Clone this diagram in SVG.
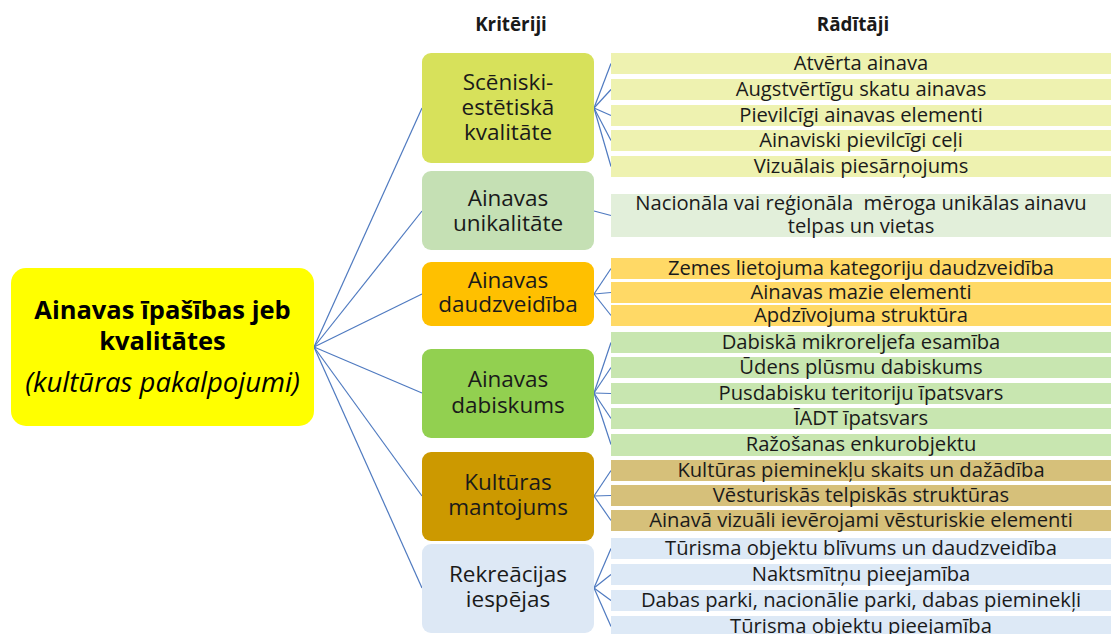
<svg xmlns="http://www.w3.org/2000/svg" width="1111" height="634" viewBox="0 0 1111 634">
<style>
text{font-family:"Open Sans","Liberation Sans",sans-serif;fill:#1a1a1a;text-anchor:middle}
.hd{font-size:18.8px;font-weight:bold}
.cr{font-size:22.5px}
.ind{font-size:20.2px}
.root{font-size:25.5px;font-weight:bold;fill:#000}
.rooti{font-size:27.5px;font-style:italic;fill:#000}
.con line{stroke:#4F7AC0;stroke-width:1.2;fill:none}
</style>
<rect width="1111" height="634" fill="#fff"/>
<g class="con" id="connectors">
<line x1="314" y1="347" x2="422" y2="108"/>
<line x1="314" y1="347" x2="422" y2="211"/>
<line x1="314" y1="347" x2="422" y2="294"/>
<line x1="314" y1="347" x2="422" y2="393"/>
<line x1="314" y1="347" x2="422" y2="496"/>
<line x1="314" y1="347" x2="422" y2="588"/>
<line x1="594" y1="108" x2="611" y2="63.5"/>
<line x1="594" y1="108" x2="611" y2="89.5"/>
<line x1="594" y1="108" x2="611" y2="115.5"/>
<line x1="594" y1="108" x2="611" y2="140.5"/>
<line x1="594" y1="108" x2="611" y2="166.5"/>
<line x1="594" y1="211" x2="611" y2="215.5"/>
<line x1="594" y1="294" x2="611" y2="268.5"/>
<line x1="594" y1="294" x2="611" y2="292.5"/>
<line x1="594" y1="294" x2="611" y2="315.5"/>
<line x1="594" y1="393" x2="611" y2="342.5"/>
<line x1="594" y1="393" x2="611" y2="367.5"/>
<line x1="594" y1="393" x2="611" y2="393.5"/>
<line x1="594" y1="393" x2="611" y2="418.5"/>
<line x1="594" y1="393" x2="611" y2="444.5"/>
<line x1="594" y1="496" x2="611" y2="470.5"/>
<line x1="594" y1="496" x2="611" y2="495.5"/>
<line x1="594" y1="496" x2="611" y2="520.5"/>
<line x1="594" y1="588" x2="611" y2="548.5"/>
<line x1="594" y1="588" x2="611" y2="574.5"/>
<line x1="594" y1="588" x2="611" y2="600.5"/>
<line x1="594" y1="588" x2="611" y2="626.5"/>
</g>
<g id="headers">
<text class="hd" x="511" y="31">Kritēriji</text>
<text class="hd" x="853" y="31">Rādītāji</text>
</g>
<g id="root">
<rect x="11" y="268" width="303" height="158" rx="15" fill="#FFFF00"/>
<text class="root" x="162.5" y="319">Ainavas īpašības jeb</text>
<text class="root" x="162.5" y="350">kvalitātes</text>
<text class="rooti" x="162.5" y="392">(kultūras pakalpojumi)</text>
</g>
<g id="c1">
<rect x="422" y="53" width="172" height="110" rx="9" fill="#D7E15B"/>
<text class="cr" x="508" y="90">Scēniski-</text>
<text class="cr" x="508" y="115">estētiskā</text>
<text class="cr" x="508" y="140">kvalitāte</text>
</g>
<g id="c2">
<rect x="422" y="171" width="172" height="79" rx="9" fill="#C5E0B4"/>
<text class="cr" x="508" y="206">Ainavas</text>
<text class="cr" x="508" y="231">unikalitāte</text>
</g>
<g id="c3">
<rect x="422" y="262" width="172" height="64" rx="9" fill="#FFC000"/>
<text class="cr" x="508" y="288">Ainavas</text>
<text class="cr" x="508" y="312">daudzveidība</text>
</g>
<g id="c4">
<rect x="422" y="349" width="172" height="89" rx="9" fill="#92D050"/>
<text class="cr" x="508" y="387">Ainavas</text>
<text class="cr" x="508" y="413">dabiskums</text>
</g>
<g id="c5">
<rect x="422" y="452" width="172" height="89" rx="9" fill="#CC9900"/>
<text class="cr" x="508" y="490">Kultūras</text>
<text class="cr" x="508" y="515">mantojums</text>
</g>
<g id="c6">
<rect x="422" y="544" width="172" height="89" rx="9" fill="#DDE8F5"/>
<text class="cr" x="508" y="582">Rekreācijas</text>
<text class="cr" x="508" y="607">iespējas</text>
</g>
<g id="i1">
<rect x="611" y="53" width="500" height="21" fill="#EEF2B0"/>
<text class="ind" x="861" y="70">Atvērta ainava</text>
</g>
<g id="i2">
<rect x="611" y="79" width="500" height="21" fill="#EEF2B0"/>
<text class="ind" x="861" y="96">Augstvērtīgu skatu ainavas</text>
</g>
<g id="i3">
<rect x="611" y="105" width="500" height="21" fill="#EEF2B0"/>
<text class="ind" x="861" y="122">Pievilcīgi ainavas elementi</text>
</g>
<g id="i4">
<rect x="611" y="130" width="500" height="21" fill="#EEF2B0"/>
<text class="ind" x="861" y="147">Ainaviski pievilcīgi ceļi</text>
</g>
<g id="i5">
<rect x="611" y="156" width="500" height="21" fill="#EEF2B0"/>
<text class="ind" x="861" y="173">Vizuālais piesārņojums</text>
</g>
<g id="i6">
<rect x="611" y="194" width="500" height="43" fill="#E2EFDA"/>
<text class="ind" x="861" y="210" xml:space="preserve">Nacionāla vai reģionāla  mēroga unikālas ainavu</text>
<text class="ind" x="861" y="233">telpas un vietas</text>
</g>
<g id="i7">
<rect x="611" y="258" width="500" height="21" fill="#FFD966"/>
<text class="ind" x="861" y="275">Zemes lietojuma kategoriju daudzveidība</text>
</g>
<g id="i8">
<rect x="611" y="282" width="500" height="21" fill="#FFD966"/>
<text class="ind" x="861" y="299">Ainavas mazie elementi</text>
</g>
<g id="i9">
<rect x="611" y="305" width="500" height="21" fill="#FFD966"/>
<text class="ind" x="861" y="322">Apdzīvojuma struktūra</text>
</g>
<g id="i10">
<rect x="611" y="332" width="500" height="21" fill="#C8E6B0"/>
<text class="ind" x="861" y="349">Dabiskā mikroreljefa esamība</text>
</g>
<g id="i11">
<rect x="611" y="357" width="500" height="21" fill="#C8E6B0"/>
<text class="ind" x="861" y="374">Ūdens plūsmu dabiskums</text>
</g>
<g id="i12">
<rect x="611" y="383" width="500" height="21" fill="#C8E6B0"/>
<text class="ind" x="861" y="400">Pusdabisku teritoriju īpatsvars</text>
</g>
<g id="i13">
<rect x="611" y="408" width="500" height="21" fill="#C8E6B0"/>
<text class="ind" x="861" y="425">ĪADT īpatsvars</text>
</g>
<g id="i14">
<rect x="611" y="434" width="500" height="22" fill="#C8E6B0"/>
<text class="ind" x="861" y="451">Ražošanas enkurobjektu</text>
</g>
<g id="i15">
<rect x="611" y="460" width="500" height="21" fill="#D6C07A"/>
<text class="ind" x="861" y="477">Kultūras pieminekļu skaits un dažādība</text>
</g>
<g id="i16">
<rect x="611" y="485" width="500" height="21" fill="#D6C07A"/>
<text class="ind" x="861" y="502">Vēsturiskās telpiskās struktūras</text>
</g>
<g id="i17">
<rect x="611" y="510" width="500" height="21" fill="#D6C07A"/>
<text class="ind" x="861" y="527">Ainavā vizuāli ievērojami vēsturiskie elementi</text>
</g>
<g id="i18">
<rect x="611" y="538" width="500" height="21" fill="#DDE9F6"/>
<text class="ind" x="861" y="555">Tūrisma objektu blīvums un daudzveidība</text>
</g>
<g id="i19">
<rect x="611" y="564" width="500" height="21" fill="#DDE9F6"/>
<text class="ind" x="861" y="581">Naktsmītņu pieejamība</text>
</g>
<g id="i20">
<rect x="611" y="590" width="500" height="21" fill="#DDE9F6"/>
<text class="ind" x="861" y="607">Dabas parki, nacionālie parki, dabas pieminekļi</text>
</g>
<g id="i21">
<rect x="611" y="616" width="500" height="21" fill="#DDE9F6"/>
<text class="ind" x="861" y="633">Tūrisma objektu pieejamība</text>
</g>
</svg>
